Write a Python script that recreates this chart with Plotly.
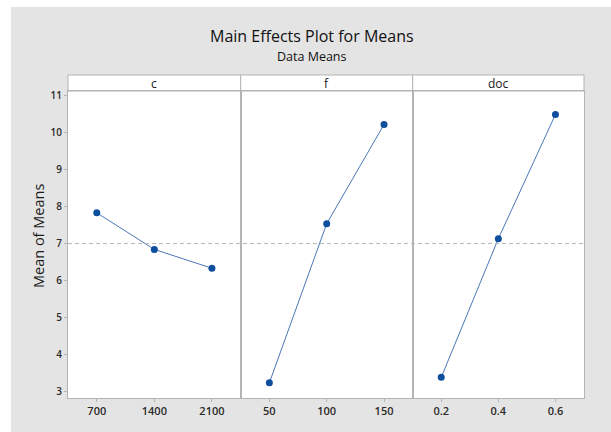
import plotly.graph_objects as go

factors = ["c", "f", "doc"]
c_levels = ["700", "1400", "2100"]
c_means = [7.84, 6.85, 6.34]
f_levels = ["50", "100", "150"]
f_means = [3.24, 7.545, 10.23]
doc_levels = ["0.2", "0.4", "0.6"]
doc_means = [3.39, 7.14, 10.50]
y_ticks = [3, 4, 5, 6, 7, 8, 9, 10, 11]

levels = [c_levels, f_levels, doc_levels]
means = [c_means, f_means, doc_means]
grand_mean = sum(c_means + f_means + doc_means) / 9.0

W, H = 611, 432
L, R, T, B = 68, 27, 75, 34
pw = W - L - R
ph = H - T - B
ytop = (398 - 91) / ph
dom = [(0, (240.7 - 68) / pw), ((240.7 - 68) / pw, (412.7 - 68) / pw), ((412.7 - 68) / pw, 1)]

FONT = "Open Sans"
GRAY = "#b4b4b4"
BG = "#e4e4e4"
TXT = "#2a2a2a"

fig = go.Figure()
for i in range(3):
    sfx = "" if i == 0 else str(i + 1)
    fig.add_trace(go.Scatter(
        x=list(range(3)), y=means[i], mode="lines+markers",
        line=dict(color="#4a78b8", width=1),
        marker=dict(color="#0d4f9c", size=7),
        xaxis="x" + sfx, yaxis="y" + sfx, showlegend=False, hoverinfo="skip"))

layout = dict(
    width=W, height=H,
    margin=dict(l=L, r=R, t=T, b=B),
    paper_bgcolor=BG, plot_bgcolor="white",
    font=dict(family=FONT, color=TXT, size=11),
    showlegend=False,
)
for i in range(3):
    sfx = "" if i == 0 else str(i + 1)
    layout["xaxis" + sfx] = dict(
        domain=list(dom[i]), range=[-0.5, 2.5], tickvals=[0, 1, 2], ticktext=levels[i],
        showline=True, mirror=True, linecolor=GRAY, linewidth=1, showgrid=False, zeroline=False,
        ticks="outside", ticklen=3, tickcolor=GRAY, anchor="y" + sfx,
        tickfont=dict(size=11, color=TXT, weight=600), fixedrange=True)
    ya = dict(domain=[0, ytop], range=[2.83, 11.135], showline=True, mirror=True,
              linecolor=GRAY, linewidth=1, showgrid=False, zeroline=False,
              anchor="x" + sfx, fixedrange=True)
    if i == 0:
        ya.update(tickvals=y_ticks, ticks="outside", ticklen=3, tickcolor=GRAY,
                  tickfont=dict(size=10, color=TXT, weight=600))
    else:
        ya.update(showticklabels=False, ticks="", matches="y")
    layout["yaxis" + sfx] = ya

shapes = []
# white outer margins (top and left)
shapes.append(dict(type="rect", xref="paper", yref="paper",
                   x0=-L / pw - 0.01, x1=(11 - L) / pw, y0=-B / ph - 0.01, y1=(ph + T) / ph + 0.01,
                   fillcolor="white", line=dict(width=0), layer="below"))
shapes.append(dict(type="rect", xref="paper", yref="paper",
                   x0=-L / pw - 0.01, x1=(pw + R) / pw + 0.01, y0=(398 - 7) / ph, y1=(ph + T) / ph + 0.01,
                   fillcolor="white", line=dict(width=0), layer="below"))
annotations = []
for i in range(3):
    shapes.append(dict(type="rect", xref="paper", yref="paper",
                       x0=dom[i][0], x1=dom[i][1], y0=ytop, y1=1,
                       fillcolor="white", line=dict(color=GRAY, width=1), layer="below"))
    annotations.append(dict(text=factors[i], xref="paper", yref="paper",
                            x=(dom[i][0] + dom[i][1]) / 2, y=(ytop + 1) / 2,
                            showarrow=False, font=dict(size=12, color="#1a1a1a"),
                            xanchor="center", yanchor="middle"))
# grand mean reference line
shapes.append(dict(type="line", xref="paper", yref="y", x0=0, x1=1, y0=grand_mean, y1=grand_mean,
                   line=dict(color="#b8b8b8", width=1, dash="4px,3px")))

annotations.append(dict(text="Main Effects Plot for Means", xref="paper", yref="paper",
                        x=(312 - L) / pw, y=(398 - 36) / ph, showarrow=False,
                        font=dict(size=16, color="#111111", weight=500), xanchor="center", yanchor="middle"))
annotations.append(dict(text="Data Means", xref="paper", yref="paper",
                        x=(312 - L) / pw, y=(398 - 56) / ph, showarrow=False,
                        font=dict(size=12.5, color="#111111", weight=500), xanchor="center", yanchor="middle"))
annotations.append(dict(text="Mean of Means", xref="paper", yref="paper",
                        x=(38 - L) / pw, y=(398 - 236) / ph, showarrow=False, textangle=-90,
                        font=dict(size=14.5, color="#1a1a1a", weight=500), xanchor="center", yanchor="middle"))

layout["shapes"] = shapes
layout["annotations"] = annotations
fig.update_layout(**layout)
fig.write_html("out.html", config={"displayModeBar": False},
               post_script="document.body.style.margin='0';document.body.style.overflow='hidden';")
